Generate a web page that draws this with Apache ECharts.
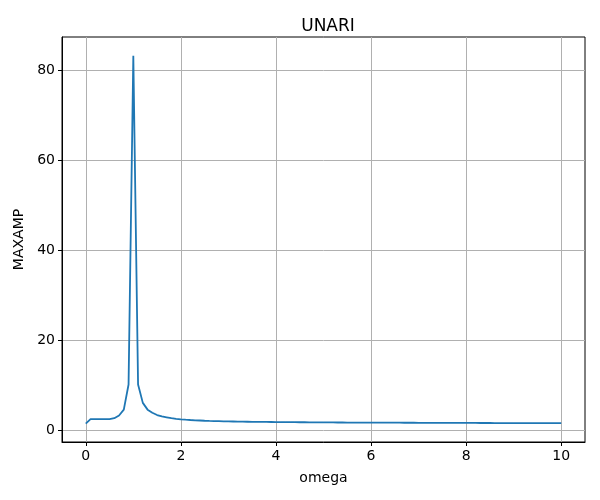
<!DOCTYPE html>
<html>
<head>
<meta charset="utf-8">
<script src="https://cdn.jsdelivr.net/npm/echarts@6/dist/echarts.min.js"></script>
<style>html,body{margin:0;padding:0;background:#fff}#c{width:600px;height:500px}</style>
</head>
<body>
<div id="c"></div>
<script>
const omega = [0.0,0.1,0.2,0.3,0.4,0.5,0.6,0.7,0.8,0.9,
1.0,1.1,1.2,1.3,1.4,1.5,1.6,1.7,1.8,1.9,
2.0,2.1,2.2,2.3,2.4,2.5,2.6,2.7,2.8,2.9,
3.0,3.1,3.2,3.3,3.4,3.5,3.6,3.7,3.8,3.9,
4.0,4.1,4.2,4.3,4.4,4.5,4.6,4.7,4.8,4.9,
5.0,5.1,5.2,5.3,5.4,5.5,5.6,5.7,5.8,5.9,
6.0,6.1,6.2,6.3,6.4,6.5,6.6,6.7,6.8,6.9,
7.0,7.1,7.2,7.3,7.4,7.5,7.6,7.7,7.8,7.9,
8.0,8.1,8.2,8.3,8.4,8.5,8.6,8.7,8.8,8.9,
9.0,9.1,9.2,9.3,9.4,9.5,9.6,9.7,9.8,9.9,10.0];
const maxamp = [1.5,2.5,2.5,2.5,2.5,2.5,2.7,3.3,4.6,10.2,
83.3,10.2,6.1,4.6,3.9,3.4,3.1,2.9,2.7,2.55,
2.45,2.36,2.29,2.23,2.18,2.13,2.09,2.06,2.03,2.0,
1.98,1.96,1.94,1.92,1.91,1.89,1.88,1.87,1.86,1.85,
1.84,1.83,1.82,1.81,1.80,1.79,1.79,1.78,1.77,1.77,
1.76,1.75,1.75,1.74,1.74,1.73,1.73,1.72,1.72,1.71,
1.71,1.70,1.70,1.70,1.69,1.69,1.69,1.68,1.68,1.68,
1.67,1.67,1.67,1.66,1.66,1.66,1.66,1.65,1.65,1.65,
1.65,1.64,1.64,1.63,1.63,1.63,1.62,1.62,1.62,1.62,
1.61,1.61,1.61,1.61,1.60,1.60,1.60,1.59,1.59,1.59,1.58];
const xTicks = [0,2,4,6,8,10];
const yTicks = [0,20,40,60,80];

const font = 'DejaVu Sans';
const chart = echarts.init(document.getElementById('c'), null, {renderer:'canvas'});
chart.setOption({
  animation:false,
  title:{text:'UNARI',left:323,top:13,textAlign:'center',
    textStyle:{fontFamily:font,fontSize:17,fontWeight:'normal',color:'#000'}},
  grid:{left:62,right:15,top:37,bottom:58,show:true,borderColor:'#000',borderWidth:1,backgroundColor:'transparent'},
  xAxis:{type:'value',min:-0.5,max:10.5,
    name:'omega',nameLocation:'middle',nameGap:29,
    nameTextStyle:{fontFamily:font,fontSize:14,color:'#000'},
    axisLine:{show:true,onZero:false,lineStyle:{color:'#000',width:1}},
    axisTick:{show:true,length:4,customValues:xTicks,lineStyle:{color:'#000'}},
    axisLabel:{customValues:xTicks,fontFamily:font,fontSize:14,color:'#000',margin:7},
    splitLine:{show:true,lineStyle:{color:'#b0b0b0',width:1}}},
  yAxis:{type:'value',min:-2.6,max:87.5,
    name:'MAXAMP',nameLocation:'middle',nameGap:32,
    nameTextStyle:{fontFamily:font,fontSize:14,color:'#000'},
    axisLine:{show:true,onZero:false,lineStyle:{color:'#000',width:1}},
    axisTick:{show:true,length:4,customValues:yTicks,lineStyle:{color:'#000'}},
    axisLabel:{customValues:yTicks,fontFamily:font,fontSize:14,color:'#000',margin:7},
    splitLine:{show:true,lineStyle:{color:'#b0b0b0',width:1}}},
  series:[{type:'line',data:omega.map((x,i)=>[x,maxamp[i]]),showSymbol:false,
    lineStyle:{color:'#1f77b4',width:1.8},itemStyle:{color:'#1f77b4'}}]
});
</script>
</body>
</html>
